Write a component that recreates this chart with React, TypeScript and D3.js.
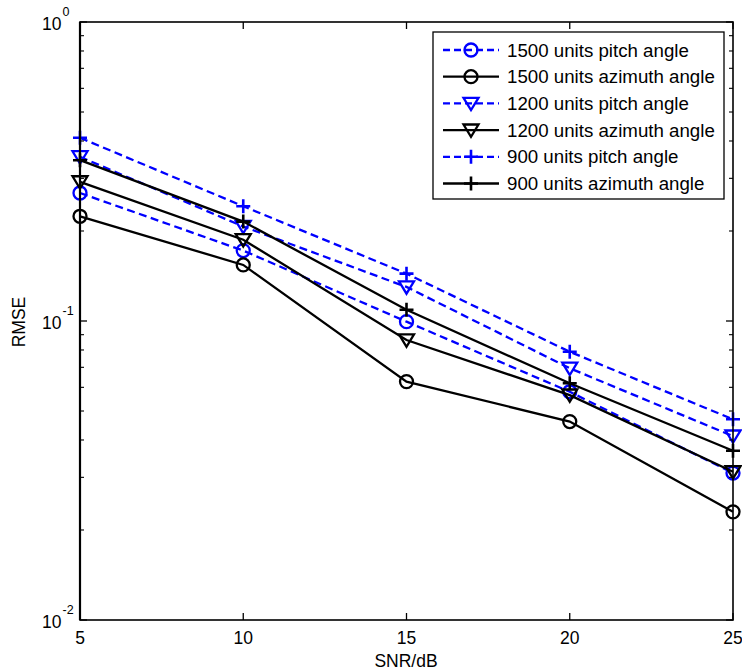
import React from "react";
import * as d3 from "d3";

const snr = [5, 10, 15, 20, 25];
const pitch1500 = [0.268, 0.172, 0.0995, 0.058, 0.031];
const azimuth1500 = [0.224, 0.154, 0.0627, 0.0461, 0.023];
const pitch1200 = [0.354, 0.207, 0.13, 0.0695, 0.0412];
const azimuth1200 = [0.292, 0.187, 0.0864, 0.0565, 0.0313];
const pitch900 = [0.41, 0.242, 0.144, 0.0789, 0.0469];
const azimuth900 = [0.345, 0.215, 0.109, 0.0619, 0.0368];

const xTicks = [5, 10, 15, 20, 25];
const yMajor = [0.01, 0.1, 1];
const yMajorExp = ["-2", "-1", "0"];

type Series = { name: string; values: number[]; color: string; dashed: boolean; marker: "circle" | "tri" | "plus" };

const series: Series[] = [
  { name: "1500 units pitch angle", values: pitch1500, color: "#0000ff", dashed: true, marker: "circle" },
  { name: "1500 units azimuth angle", values: azimuth1500, color: "#000000", dashed: false, marker: "circle" },
  { name: "1200 units pitch angle", values: pitch1200, color: "#0000ff", dashed: true, marker: "tri" },
  { name: "1200 units azimuth angle", values: azimuth1200, color: "#000000", dashed: false, marker: "tri" },
  { name: "900 units pitch angle", values: pitch900, color: "#0000ff", dashed: true, marker: "plus" },
  { name: "900 units azimuth angle", values: azimuth900, color: "#000000", dashed: false, marker: "plus" },
];

const L = 80, R = 733, T = 22, B = 620;
const FONT = "'Liberation Sans', Arial, sans-serif";
const LW = 2.3;

function Marker({ kind, x, y, color }: { kind: string; x: number; y: number; color: string }) {
  if (kind === "circle") return <circle cx={x} cy={y} r={6.5} fill="none" stroke={color} strokeWidth={LW} />;
  if (kind === "tri") {
    const s = 7.5;
    const p = `${x - s},${y - s * 0.75} ${x + s},${y - s * 0.75} ${x},${y + s * 0.9}`;
    return <polygon points={p} fill="none" stroke={color} strokeWidth={LW} />;
  }
  const s = 7;
  return (
    <path d={`M${x - s},${y}H${x + s}M${x},${y - s}V${y + s}`} stroke={color} strokeWidth={LW + 0.3} fill="none" />
  );
}

export default function App() {
  const x = d3.scaleLinear().domain([5, 25]).range([L, R]);
  const y = d3.scaleLog().domain([0.01, 1]).range([B, T]);
  const line = d3
    .line<number>()
    .x((_, i) => x(snr[i]))
    .y((v) => y(v));

  const minor: number[] = [];
  [0.01, 0.1].forEach((d) => {
    for (let k = 2; k <= 9; k++) minor.push(d * k);
  });

  const legX = 433, legY = 32, legW = 291, legH = 167;
  const rowY = (i: number) => 50 + i * 26.7;

  return (
    <svg width={742} height={671} style={{ position: "absolute", left: 0, top: 0, background: "#fff" }} fontFamily={FONT}>
      <rect x={0} y={0} width={742} height={671} fill="#fff" />
      {series.map((s) => (
        <g key={s.name}>
          <path
            d={line(s.values) || ""}
            fill="none"
            stroke={s.color}
            strokeWidth={LW}
            strokeDasharray={s.dashed ? "8,4.5" : undefined}
          />
          {s.values.map((v, i) => (
            <Marker key={i} kind={s.marker} x={x(snr[i])} y={y(v)} color={s.color} />
          ))}
        </g>
      ))}
      <rect x={L} y={T} width={R - L} height={B - T} fill="none" stroke="#000" strokeWidth={1.6} />
      <line x1={L} x2={L} y1={T} y2={B} stroke="#000" strokeWidth={2.2} />
      {xTicks.map((t) => (
        <g key={t}>
          <line x1={x(t)} x2={x(t)} y1={B} y2={B - 7} stroke="#000" strokeWidth={1.3} />
          <line x1={x(t)} x2={x(t)} y1={T} y2={T + 7} stroke="#000" strokeWidth={1.3} />
          <text x={x(t)} y={643.5} textAnchor="middle" fontSize={17.5}>
            {t}
          </text>
        </g>
      ))}
      {yMajor.map((t, i) => (
        <g key={t}>
          <line x1={L} x2={L + 7} y1={y(t)} y2={y(t)} stroke="#000" strokeWidth={1.3} />
          <line x1={R} x2={R - 7} y1={y(t)} y2={y(t)} stroke="#000" strokeWidth={1.3} />
          <text x={61.5} y={y(t) + 7.5} textAnchor="end" fontSize={17.5}>
            10
          </text>
          <text x={62.5} y={y(t) - 6} fontSize={12.5}>
            {yMajorExp[i]}
          </text>
        </g>
      ))}
      {minor.map((t) => (
        <g key={t}>
          <line x1={L} x2={L + 4} y1={y(t)} y2={y(t)} stroke="#000" strokeWidth={1.1} />
          <line x1={R} x2={R - 4} y1={y(t)} y2={y(t)} stroke="#000" strokeWidth={1.1} />
        </g>
      ))}
      <text x={406} y={667} textAnchor="middle" fontSize={17.5}>
        SNR/dB
      </text>
      <text transform={`translate(25,322) rotate(-90)`} textAnchor="middle" fontSize={17.5}>
        RMSE
      </text>
      <rect x={legX} y={legY} width={legW} height={legH} fill="#fff" stroke="#000" strokeWidth={1.3} />
      {series.map((s, i) => (
        <g key={s.name}>
          <line
            x1={443}
            x2={499}
            y1={rowY(i)}
            y2={rowY(i)}
            stroke={s.color}
            strokeWidth={LW}
            strokeDasharray={s.dashed ? "7,4" : undefined}
          />
          <Marker kind={s.marker} x={471} y={rowY(i)} color={s.color} />
          <text x={507} y={rowY(i) + 6.5} fontSize={18.7}>
            {s.name}
          </text>
        </g>
      ))}
    </svg>
  );
}
